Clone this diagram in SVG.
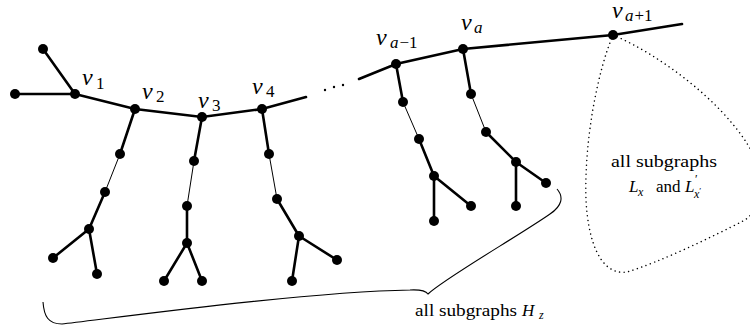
<svg xmlns="http://www.w3.org/2000/svg" width="750" height="328" viewBox="0 0 750 328">
<style>
.e{stroke:#000;stroke-width:2.6;fill:none;stroke-linecap:round}
.t{stroke:#000;stroke-width:1;fill:none}
.n{fill:#000}
.lab{font-size:24px;font-style:italic}
.s{font-size:17px;font-style:normal}
.si{font-size:17px;font-style:italic}
.txt{font-size:17px}
.it{font-style:italic}
.sm{font-size:12px}
</style>
<rect width="750" height="328" fill="#fff"/>
<g id="connectors">
  <polyline class="e" points="43,49 75,94"/>
  <polyline class="e" points="15,94 75,94"/>
  <polyline class="e" points="75,94 135,109 202,117 262,109 306,97"/>
  <polyline class="e" points="359,79 396,64 463,49 613,35 682,24"/>
  <line class="e" x1="135" y1="109" x2="120" y2="154"/>
  <line class="t" x1="120" y1="154" x2="105" y2="192"/>
  <line class="e" x1="105" y1="192" x2="89" y2="229"/>
  <line class="e" x1="89" y1="229" x2="53" y2="258"/>
  <line class="e" x1="89" y1="229" x2="97" y2="274"/>
  <line class="e" x1="202" y1="117" x2="194" y2="161"/>
  <line class="t" x1="194" y1="161" x2="187" y2="206"/>
  <line class="e" x1="187" y1="206" x2="187" y2="243"/>
  <line class="e" x1="187" y1="243" x2="164" y2="281"/>
  <line class="e" x1="187" y1="243" x2="202" y2="281"/>
  <line class="e" x1="262" y1="109" x2="269" y2="154"/>
  <line class="t" x1="269" y1="154" x2="277" y2="199"/>
  <line class="e" x1="277" y1="199" x2="299" y2="236"/>
  <line class="e" x1="299" y1="236" x2="292" y2="281"/>
  <line class="e" x1="299" y1="236" x2="337" y2="260"/>
  <line class="e" x1="396" y1="64" x2="403" y2="102"/>
  <line class="t" x1="403" y1="102" x2="419" y2="139"/>
  <line class="e" x1="419" y1="139" x2="434" y2="176"/>
  <line class="e" x1="434" y1="176" x2="434" y2="221"/>
  <line class="e" x1="434" y1="176" x2="471" y2="206"/>
  <line class="e" x1="463" y1="49" x2="471" y2="94"/>
  <line class="t" x1="471" y1="94" x2="486" y2="132"/>
  <line class="e" x1="486" y1="132" x2="516" y2="162"/>
  <line class="e" x1="516" y1="162" x2="516" y2="206"/>
  <line class="e" x1="516" y1="162" x2="546" y2="183"/>
</g>
<g id="ellipsis">
  <circle class="n" cx="325" cy="90" r="1.2"/>
  <circle class="n" cx="334" cy="87" r="1.2"/>
  <circle class="n" cx="343" cy="85" r="1.2"/>
</g>
<g id="nodes">
  <circle id="n_tl" class="n" cx="43" cy="49" r="5"/>
  <circle id="n_l" class="n" cx="15" cy="94" r="5"/>
  <circle id="v1" class="n" cx="75" cy="94" r="5"/>
  <circle id="v2" class="n" cx="135" cy="109" r="5"/>
  <circle id="v3" class="n" cx="202" cy="117" r="5"/>
  <circle id="v4" class="n" cx="262" cy="109" r="5"/>
  <circle class="n" cx="120" cy="154" r="5"/>
  <circle class="n" cx="105" cy="192" r="5"/>
  <circle class="n" cx="89" cy="229" r="5"/>
  <circle class="n" cx="53" cy="258" r="5"/>
  <circle class="n" cx="97" cy="274" r="5"/>
  <circle class="n" cx="194" cy="161" r="5"/>
  <circle class="n" cx="187" cy="206" r="5"/>
  <circle class="n" cx="187" cy="243" r="5"/>
  <circle class="n" cx="164" cy="281" r="5"/>
  <circle class="n" cx="202" cy="281" r="5"/>
  <circle class="n" cx="269" cy="154" r="5"/>
  <circle class="n" cx="277" cy="199" r="5"/>
  <circle class="n" cx="299" cy="236" r="5"/>
  <circle class="n" cx="292" cy="281" r="5"/>
  <circle class="n" cx="337" cy="260" r="5"/>
  <circle id="va-1" class="n" cx="396" cy="64" r="5"/>
  <circle class="n" cx="403" cy="102" r="5"/>
  <circle class="n" cx="419" cy="139" r="5"/>
  <circle class="n" cx="434" cy="176" r="5"/>
  <circle class="n" cx="434" cy="221" r="5"/>
  <circle class="n" cx="471" cy="206" r="5"/>
  <circle id="va" class="n" cx="463" cy="49" r="5"/>
  <circle class="n" cx="471" cy="94" r="5"/>
  <circle class="n" cx="486" cy="132" r="5"/>
  <circle class="n" cx="516" cy="162" r="5"/>
  <circle class="n" cx="516" cy="206" r="5"/>
  <circle class="n" cx="546" cy="183" r="5"/>
  <circle id="va+1" class="n" cx="613" cy="35" r="5"/>
</g>
<g id="labels" font-family="Liberation Serif, DejaVu Serif, serif" fill="#000">
  <text class="lab" x="82" y="85">v<tspan class="s" x="96" y="89">1</tspan></text>
  <text class="lab" x="142" y="99">v<tspan class="s" x="156" y="102">2</tspan></text>
  <text class="lab" x="198" y="108">v<tspan class="s" x="212" y="111">3</tspan></text>
  <text class="lab" x="252" y="94">v<tspan class="s" x="266" y="97">4</tspan></text>
  <text class="lab" x="376" y="45">v<tspan class="si" x="390" y="48">a</tspan><tspan class="s" dx="1">−1</tspan></text>
  <text class="lab" x="461" y="30">v<tspan class="si" x="474" y="33">a</tspan></text>
  <text class="lab" x="612" y="18">v<tspan class="si" x="625" y="21">a</tspan><tspan class="s" dx="1">+1</tspan></text>
</g>
<g id="region_L" font-family="Liberation Serif, DejaVu Serif, serif" fill="#000">
  <path d="M613,35 C660,55 720,100 748,145 C770,180 765,205 745,220 C710,238 660,262 627,272 C600,276 588,240 586,200 C584,140 598,70 613,35 Z" fill="none" stroke="#000" stroke-width="1.5" stroke-dasharray="0.01 4.6" stroke-linecap="round"/>
  <text class="txt" x="611" y="167" textLength="106" lengthAdjust="spacingAndGlyphs">all subgraphs</text>
  <text class="txt" x="629" y="192"><tspan class="it">L</tspan><tspan class="it sm" x="638" y="196">x</tspan><tspan x="656" y="192">and</tspan><tspan class="it" x="685" y="192">L</tspan><tspan class="sm" x="695" y="183">′</tspan><tspan class="it sm" x="694" y="198">x</tspan><tspan font-size="9" dy="-4">′</tspan></text>
</g>
<g id="brace_H" font-family="Liberation Serif, DejaVu Serif, serif" fill="#000">
  <path d="M43,302 C44,316 48,324 62,324 C100,320 300,292 410,290 C420,289.5 426,291 428,294 C445,278 520,235 550,214 C562,206 564,197 557,189" fill="none" stroke="#000" stroke-width="1.1"/>
  <text class="txt" x="415" y="316"><tspan textLength="102" lengthAdjust="spacingAndGlyphs">all subgraphs</tspan><tspan class="it" x="522">H</tspan><tspan class="it sm" x="539" y="319">z</tspan></text>
</g>
</svg>
